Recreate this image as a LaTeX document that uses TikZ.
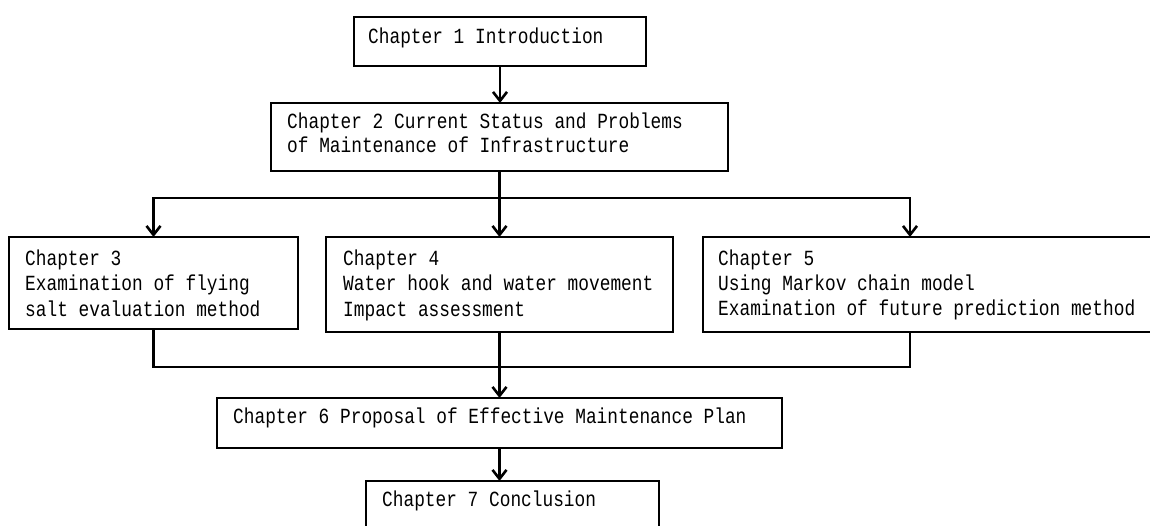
\documentclass[tikz,border=0pt]{standalone}
\usepackage{fontspec}
\usetikzlibrary{arrows.meta}
\newfontfamily\gfont[FakeStretch=0.825]{Liberation Mono}
\begin{document}
\begin{tikzpicture}[x=1pt,y=-1pt,
  box/.style={draw=black, line width=2.8pt, rectangle, inner sep=0pt, outer sep=0pt, anchor=north west},
  txt/.style={anchor=north west, inner sep=0pt, align=left, text=black},
  conn/.style={draw=black, line width=2.6pt},
  arr/.style={conn, -{Straight Barb[length=9pt,width=14pt]}}]
\clip (0,0) rectangle (1150,525);
\fill[white] (0,0) rectangle (1150,525);
% boxes
\node[box, minimum width=292pt, minimum height=49pt] (b1) at (354,17) {};
\node[box, minimum width=457pt, minimum height=68pt] (b2) at (271,103) {};
\node[box, minimum width=289pt, minimum height=92pt] (b3) at (9,237) {};
\node[box, minimum width=347pt, minimum height=95pt] (b4) at (326,237) {};
\node[box, minimum width=460pt, minimum height=95pt] (b5) at (703,237) {};
\node[box, minimum width=565pt, minimum height=50pt] (b6) at (217,398) {};
\node[box, minimum width=293pt, minimum height=60pt] (b7) at (366,481) {};
% texts
\node[txt, font=\gfont\fontsize{21.6}{24}\selectfont] (b1t) at (368,27.7) {Chapter 1 Introduction};
\node[txt, font=\gfont\fontsize{21.6}{24}\selectfont] (b2t) at (287,112.7) {Chapter 2 Current Status and Problems\\of Maintenance of Infrastructure};
\node[txt, font=\gfont\fontsize{21.6}{25.5}\selectfont] (b3t) at (25,249.5) {Chapter 3\\Examination of flying\\salt evaluation method};
\node[txt, font=\gfont\fontsize{21.6}{25.5}\selectfont] (b4t) at (343,249.5) {Chapter 4\\Water hook and water movement\\Impact assessment};
\node[txt, font=\gfont\fontsize{21.6}{25}\selectfont] (b5t) at (718,250) {Chapter 5\\Using Markov chain model\\Examination of future prediction method};
\node[txt, font=\gfont\fontsize{21.6}{24}\selectfont] (b6t) at (233,407.7) {Chapter 6 Proposal of Effective Maintenance Plan};
\node[txt, font=\gfont\fontsize{21.6}{24}\selectfont] (b7t) at (382,490.7) {Chapter 7 Conclusion};
% junction coordinates
\coordinate (jt) at (b2.south |- 0,198);
\coordinate (jb) at (b4.south |- 0,367);
\coordinate (b5in) at (910,237);
\coordinate (b5out) at (910,332);
% connectors
\draw[arr] (b1.south) -- (b1.south |- b2.north);
\draw[conn] (b2.south) -- (jt);
\draw[arr] (jt) -| (b3.north);
\draw[arr] (jt) -- (jt |- b4.north);
\draw[arr] (jt) -| (b5in);
\draw[conn] (b3.south) |- (jb);
\draw[conn] (b5out) |- (jb);
\draw[arr] (b4.south) -- (b4.south |- b6.north);
\draw[arr] (b6.south) -- (b6.south |- b7.north);
\end{tikzpicture}
\end{document}
